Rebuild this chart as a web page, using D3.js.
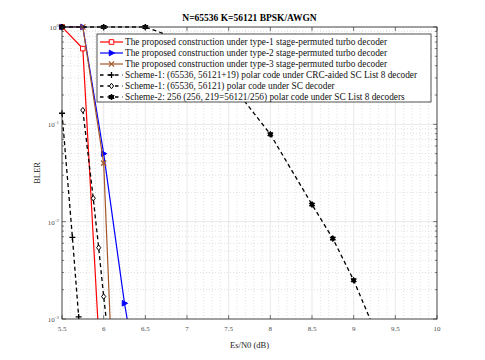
<!DOCTYPE html>
<html>
<head>
<meta charset="utf-8">
<script src="https://cdn.jsdelivr.net/npm/d3@7/dist/d3.min.js"></script>
<style>
    body { margin: 0; background: #fff; }
    text { font-family: "Liberation Serif", "Times New Roman", serif; }
</style>
</head>
<body>
<div id="chart"></div>
<script>
// data
var type1X = [5.5, 5.75, 6.0];
var type1Y = [1, 0.6, 8e-5];
var type2X = [5.5, 5.75, 6.0, 6.25, 6.5];
var type2Y = [1, 1, 0.05, 1.45e-3, 8e-5];
var type3X = [5.5, 5.75, 6.0, 6.125];
var type3Y = [1, 1, 0.04, 1e-4];
var crcX = [5.5, 5.625, 5.7];
var crcY = [0.13, 6.9e-3, 1.05e-3];
var scX = [5.75, 5.875, 5.94, 6.0, 6.06];
var scY = [0.14, 0.0174, 5.4e-3, 1.7e-3, 6e-4];
var scl256X = [5.5, 6.0, 6.5, 7.0, 7.5, 8.0, 8.5, 8.75, 9.0, 9.25];
var scl256Y = [1, 1, 1, 0.7, 0.28, 0.079, 0.015, 6.7e-3, 2.5e-3, 7.8e-4];

var xTicks = [5.5, 6, 6.5, 7, 7.5, 8, 8.5, 9, 9.5, 10];
var yTickExp = [0, -1, -2, -3];

var legendLabels = [
    "The proposed construction under type-1 stage-permuted turbo decoder",
    "The proposed construction under type-2 stage-permuted turbo decoder",
    "The proposed construction under type-3 stage-permuted turbo decoder",
    "Scheme-1:  (65536, 56121+19) polar code under CRC-aided SC List 8 decoder",
    "Scheme-1: (65536, 56121) polar code under SC decoder",
    "Scheme-2: 256 (256, 219=56121/256) polar code under SC List 8 decoders"
];

var W = 485, H = 360;
var pL = 62, pR = 437, pT = 27, pB = 319;

var svg = d3.select("#chart").append("svg").attr("width", W).attr("height", H);

var x = d3.scaleLinear().domain([5.5, 10]).range([pL, pR]);
var y = d3.scaleLog().domain([1e-3, 1]).range([pB, pT]);

var zip = function (xs, ys) {
    return xs.map(function (v, i) { return [v, ys[i]]; });
}

var series = [
    { pts: zip(type1X, type1Y), color: "#ff0000", dash: null, marker: "square" },
    { pts: zip(type2X, type2Y), color: "#0000ff", dash: null, marker: "triangle" },
    { pts: zip(type3X, type3Y), color: "#a5562a", dash: null, marker: "x" },
    { pts: zip(crcX, crcY), color: "#000", dash: "4,3", marker: "plus" },
    { pts: zip(scX, scY), color: "#000", dash: "4,3", marker: "diamond" },
    { pts: zip(scl256X, scl256Y), color: "#000", dash: "4,3", marker: "hexagram" }
];

// grid
var grid = svg.append("g");
var minorX = d3.range(55, 101).map(function (d) { return d / 10; })
    .filter(function (d) { return Math.abs(d * 2 - Math.round(d * 2)) > 1e-6; });
grid.selectAll(".mx").data(minorX).enter().append("line")
    .attr("x1", function (d) { return x(d); }).attr("x2", function (d) { return x(d); })
    .attr("y1", pT).attr("y2", pB)
    .attr("stroke", "#cfcfcf").attr("stroke-width", 0.6).attr("stroke-dasharray", "1,2");
var minorY = [];
for (var e = -3; e < 0; e++) {
    for (var m = 2; m < 10; m++) minorY.push(m * Math.pow(10, e));
}
grid.selectAll(".my").data(minorY).enter().append("line")
    .attr("x1", pL).attr("x2", pR)
    .attr("y1", function (d) { return y(d); }).attr("y2", function (d) { return y(d); })
    .attr("stroke", "#cfcfcf").attr("stroke-width", 0.6).attr("stroke-dasharray", "1,2");
grid.selectAll(".gx").data(xTicks).enter().append("line")
    .attr("x1", function (d) { return x(d); }).attr("x2", function (d) { return x(d); })
    .attr("y1", pT).attr("y2", pB)
    .attr("stroke", "#e3e3e3").attr("stroke-width", 0.8);
grid.selectAll(".gy").data(yTickExp).enter().append("line")
    .attr("x1", pL).attr("x2", pR)
    .attr("y1", function (d) { return y(Math.pow(10, d)); }).attr("y2", function (d) { return y(Math.pow(10, d)); })
    .attr("stroke", "#e3e3e3").attr("stroke-width", 0.8);

// clip for data
svg.append("clipPath").attr("id", "plotclip").append("rect")
    .attr("x", pL - 6).attr("y", pT - 6).attr("width", pR - pL + 12).attr("height", pB - pT + 6);
svg.append("clipPath").attr("id", "lineclip").append("rect")
    .attr("x", pL).attr("y", pT - 2).attr("width", pR - pL).attr("height", pB - pT + 2);

var markerPath = function (type, s) {
    if (type == "plus") return "M" + (-s) + ",0H" + s + "M0," + (-s) + "V" + s;
    if (type == "x") return "M" + (-s) + "," + (-s) + "L" + s + "," + s + "M" + (-s) + "," + s + "L" + s + "," + (-s);
    if (type == "square") return "M" + (-s) + "," + (-s) + "H" + s + "V" + s + "H" + (-s) + "Z";
    if (type == "diamond") return "M0," + (-s * 1.3) + "L" + s + ",0L0," + (s * 1.3) + "L" + (-s) + ",0Z";
    if (type == "triangle") return "M" + (-s * 0.8) + "," + (-s) + "L" + (s * 1.1) + ",0L" + (-s * 0.8) + "," + s + "Z";
    // hexagram
    var p = [];
    for (var k = 0; k < 12; k++) {
        var a = Math.PI / 6 * k - Math.PI / 2;
        var r = k % 2 == 0 ? s * 1.3 : s * 0.75;
        p.push([r * Math.cos(a), r * Math.sin(a)]);
    }
    return "M" + p.join("L") + "Z";
}

var drawMarker = function (g, type, color, cx, cy) {
    var sizes = { plus: 3, x: 2.6, square: 2.3, diamond: 2.1, triangle: 2.8, hexagram: 2.3 };
    var fill = "none";
    if (type == "square" || type == "diamond") fill = "#fff";
    if (type == "triangle") fill = color;
    if (type == "hexagram") fill = color;
    g.append("path")
        .attr("d", markerPath(type, sizes[type]))
        .attr("transform", "translate(" + cx + "," + cy + ")")
        .attr("fill", fill)
        .attr("stroke", color)
        .attr("stroke-width", type == "plus" || type == "x" ? 1.3 : 1);
}

var line = d3.line().x(function (d) { return x(d[0]); }).y(function (d) { return y(d[1]); });

var dataGroup = svg.append("g");
series.forEach(function (s) {
    dataGroup.append("path")
        .attr("clip-path", "url(#lineclip)")
        .attr("d", line(s.pts))
        .attr("fill", "none")
        .attr("stroke", s.color)
        .attr("stroke-width", s.dash ? 1.3 : 1.2)
        .attr("stroke-dasharray", s.dash);
    var mg = dataGroup.append("g").attr("clip-path", "url(#plotclip)");
    s.pts.forEach(function (p) {
        if (p[1] < 1e-3) return;
        drawMarker(mg, s.marker, s.color, x(p[0]), y(p[1]));
    });
});

// axes box and ticks
var axisColor = "#262626";
var ax = svg.append("g");
ax.append("rect").attr("x", pL).attr("y", pT).attr("width", pR - pL).attr("height", pB - pT)
    .attr("fill", "none").attr("stroke", axisColor).attr("stroke-width", 0.8);
xTicks.forEach(function (t) {
    ax.append("line").attr("x1", x(t)).attr("x2", x(t)).attr("y1", pB).attr("y2", pB - 4)
        .attr("stroke", axisColor).attr("stroke-width", 0.6);
    ax.append("line").attr("x1", x(t)).attr("x2", x(t)).attr("y1", pT).attr("y2", pT + 4)
        .attr("stroke", axisColor).attr("stroke-width", 0.6);
    ax.append("text").attr("x", x(t)).attr("y", pB + 12)
        .attr("text-anchor", "middle").attr("font-size", 7).attr("fill", "#4d4d4d")
        .text(t);
});
minorY.forEach(function (t) {
    ax.append("line").attr("x1", pL).attr("x2", pL + 2).attr("y1", y(t)).attr("y2", y(t))
        .attr("stroke", axisColor).attr("stroke-width", 0.6);
    ax.append("line").attr("x1", pR).attr("x2", pR - 2).attr("y1", y(t)).attr("y2", y(t))
        .attr("stroke", axisColor).attr("stroke-width", 0.6);
});
yTickExp.forEach(function (e) {
    var yy = y(Math.pow(10, e));
    ax.append("line").attr("x1", pL).attr("x2", pL + 4).attr("y1", yy).attr("y2", yy)
        .attr("stroke", axisColor).attr("stroke-width", 0.6);
    ax.append("line").attr("x1", pR).attr("x2", pR - 4).attr("y1", yy).attr("y2", yy)
        .attr("stroke", axisColor).attr("stroke-width", 0.6);
    var tx = ax.append("text").attr("x", pL - 3).attr("y", yy + 3)
        .attr("text-anchor", "end").attr("font-size", 7).attr("fill", "#4d4d4d");
    tx.append("tspan").text("10");
    tx.append("tspan").attr("dy", -3).attr("font-size", 5).text(e == 0 ? "0" : "-" + (-e));
});

// labels
svg.append("text").attr("x", (pL + pR) / 2).attr("y", 21)
    .attr("text-anchor", "middle").attr("font-size", 9.5).attr("font-weight", "bold")
    .text("N=65536 K=56121 BPSK/AWGN");
svg.append("text").attr("x", (pL + pR) / 2).attr("y", 348)
    .attr("text-anchor", "middle").attr("font-size", 8.5).attr("fill", "#222")
    .text("Es/N0 (dB)");
svg.append("text").attr("transform", "translate(40," + ((pT + pB) / 2) + ") rotate(-90)")
    .attr("text-anchor", "middle").attr("font-size", 8.5).attr("fill", "#222")
    .text("BLER");

// legend
var lg = svg.append("g");
var lgX = 97, lgY = 34, lgW = 334, lgH = 68, rowH = 11;
lg.append("rect").attr("x", lgX).attr("y", lgY).attr("width", lgW).attr("height", lgH)
    .attr("fill", "#fff").attr("stroke", axisColor).attr("stroke-width", 0.8);
series.forEach(function (s, i) {
    var cy = lgY + 8 + i * rowH;
    lg.append("line").attr("x1", lgX + 3).attr("x2", lgX + 26).attr("y1", cy).attr("y2", cy)
        .attr("stroke", s.color).attr("stroke-width", s.dash ? 1.3 : 1.2)
        .attr("stroke-dasharray", s.dash ? "3.5,4" : null);
    drawMarker(lg, s.marker, s.color, lgX + 14.5, cy);
    lg.append("text").attr("x", lgX + 28).attr("y", cy + 3)
        .attr("font-size", 9.3).attr("fill", "#111")
        .text(legendLabels[i]);
});
</script>
</body>
</html>
